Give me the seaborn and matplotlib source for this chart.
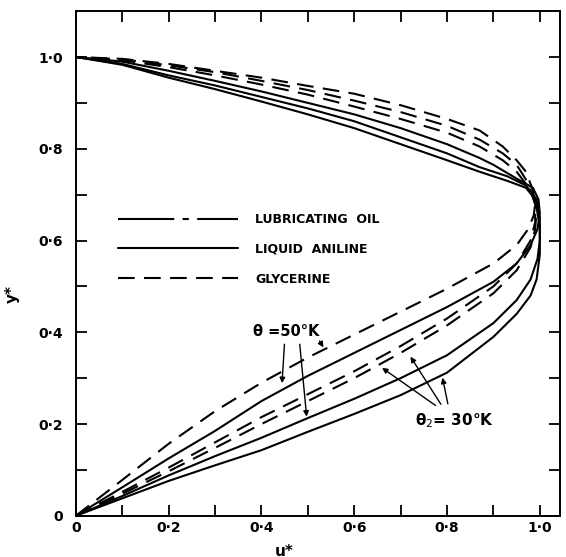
import numpy as np
import pandas as pd
import seaborn as sns
import matplotlib
matplotlib.use("Agg")
import matplotlib.pyplot as plt
from matplotlib.lines import Line2D

# Geschwindigkeitsprofile (u*, y*) - unterer Ast bis zur Spitze, dann oberer Ast zurueck
u_c1 = [0, 0.1, 0.2, 0.3, 0.4, 0.5, 0.6, 0.7, 0.8, 0.9, 0.95, 0.975, 0.987, 0.99,
        0.985, 0.97, 0.95, 0.92, 0.87, 0.8, 0.7, 0.6, 0.5, 0.4, 0.3, 0.2, 0.1, 0]
y_c1 = [0, 0.078, 0.157, 0.228, 0.29, 0.345, 0.395, 0.445, 0.495, 0.55, 0.59, 0.625, 0.655, 0.68,
        0.71, 0.75, 0.775, 0.805, 0.84, 0.865, 0.895, 0.92, 0.937, 0.955, 0.97, 0.985, 0.996, 1.0]

u_c2 = [0, 0.1, 0.2, 0.3, 0.4, 0.5, 0.6, 0.7, 0.8, 0.9, 0.95, 0.98, 0.995, 1.0,
        0.997, 0.985, 0.95, 0.9, 0.87, 0.8, 0.7, 0.6, 0.5, 0.4, 0.3, 0.2, 0.1, 0]
y_c2 = [0, 0.062, 0.125, 0.185, 0.25, 0.305, 0.355, 0.405, 0.455, 0.51, 0.55, 0.59, 0.625, 0.66,
        0.69, 0.715, 0.735, 0.765, 0.78, 0.81, 0.845, 0.875, 0.9, 0.925, 0.948, 0.97, 0.99, 1.0]

u_c3 = [0, 0.1, 0.2, 0.3, 0.4, 0.5, 0.6, 0.7, 0.8, 0.9, 0.95, 0.98, 0.99,
        0.99, 0.975, 0.95, 0.92, 0.87, 0.8, 0.7, 0.6, 0.5, 0.4, 0.3, 0.2, 0.1, 0]
y_c3 = [0, 0.052, 0.105, 0.16, 0.215, 0.265, 0.315, 0.37, 0.43, 0.5, 0.55, 0.6, 0.64,
        0.68, 0.725, 0.765, 0.79, 0.82, 0.85, 0.88, 0.905, 0.928, 0.948, 0.967, 0.982, 0.995, 1.0]

u_c4 = [0, 0.1, 0.2, 0.3, 0.4, 0.5, 0.6, 0.7, 0.8, 0.9, 0.95, 0.98, 0.99,
        0.993, 0.98, 0.95, 0.92, 0.87, 0.8, 0.7, 0.6, 0.5, 0.4, 0.3, 0.2, 0.1, 0]
y_c4 = [0, 0.048, 0.097, 0.148, 0.2, 0.25, 0.3, 0.355, 0.415, 0.485, 0.535, 0.585, 0.625,
        0.67, 0.71, 0.75, 0.775, 0.805, 0.835, 0.865, 0.892, 0.918, 0.94, 0.96, 0.978, 0.993, 1.0]

u_c5 = [0, 0.1, 0.2, 0.3, 0.4, 0.5, 0.6, 0.7, 0.8, 0.9, 0.95, 0.98, 0.995, 1.0,
        1.0, 0.993, 0.97, 0.93, 0.87, 0.8, 0.7, 0.6, 0.5, 0.4, 0.3, 0.2, 0.1, 0]
y_c5 = [0, 0.043, 0.088, 0.13, 0.17, 0.213, 0.255, 0.3, 0.35, 0.42, 0.47, 0.515, 0.56, 0.6,
        0.65, 0.69, 0.72, 0.74, 0.76, 0.79, 0.825, 0.86, 0.888, 0.913, 0.938, 0.96, 0.985, 1.0]

u_c6 = [0, 0.1, 0.2, 0.3, 0.4, 0.5, 0.6, 0.7, 0.8, 0.9, 0.95, 0.98, 0.993, 1.0,
        1.0, 0.99, 0.97, 0.93, 0.87, 0.8, 0.7, 0.6, 0.5, 0.4, 0.3, 0.2, 0.1, 0]
y_c6 = [0, 0.038, 0.076, 0.11, 0.143, 0.183, 0.222, 0.263, 0.312, 0.39, 0.44, 0.48, 0.515, 0.57,
        0.63, 0.69, 0.715, 0.73, 0.75, 0.775, 0.81, 0.845, 0.875, 0.903, 0.93, 0.955, 0.983, 1.0]

legend_labels = ['LUBRICATING  OIL', 'LIQUID  ANILINE', 'GLYCERINE']
tick_vals = [0, 0.2, 0.4, 0.6, 0.8, 1.0]
tick_labels = ['0', '0·2', '0·4', '0·6', '0·8', '1·0']

# Linienstile
dash_lub = (0, (27, 4, 3, 4))
dash_gly = (0, (8, 4.5))
styles = [dash_gly, '-', dash_gly, dash_gly, '-', '-']

curves = [(u_c1, y_c1), (u_c2, y_c2), (u_c3, y_c3), (u_c4, y_c4), (u_c5, y_c5), (u_c6, y_c6)]

sns.set_theme(style='white')
plt.rcParams['font.family'] = ['DejaVu Sans']
plt.rcParams['text.color'] = 'black'
plt.rcParams['axes.labelcolor'] = 'black'
plt.rcParams['xtick.color'] = 'black'
plt.rcParams['ytick.color'] = 'black'

fig = plt.figure(figsize=(5.66, 5.57), dpi=100)
ax = fig.add_axes([0.134, 0.074, 0.855, 0.906])

lw = 1.5
for (u, y), ls in zip(curves, styles):
    df = pd.DataFrame({'u': u, 'y': y})
    sns.lineplot(data=df, x='u', y='y', sort=False, estimator=None, errorbar=None,
                 color='black', linewidth=lw, linestyle=ls, ax=ax)

ax.set_xlim(0, 1.043)
ax.set_ylim(0, 1.10)

# Achsen / Ticks
for s in ax.spines.values():
    s.set_color('black')
    s.set_linewidth(1.4)
ax.set_xticks(tick_vals)
ax.set_xticklabels(tick_labels)
ax.set_yticks(tick_vals)
ax.set_yticklabels(tick_labels)
ax.set_xticks(np.arange(0.1, 1.01, 0.2), minor=True)
ax.set_yticks(np.arange(0.1, 1.01, 0.2), minor=True)
ax.tick_params(which='both', direction='in', length=8, width=1.3, color='black',
               top=True, right=True, bottom=True, left=True)
ax.tick_params(axis='x', which='major', pad=4, labelsize=10, labelcolor='black')
ax.tick_params(axis='y', which='major', pad=9, labelsize=10, labelcolor='black')
for lab in ax.get_xticklabels() + ax.get_yticklabels():
    lab.set_fontweight('bold')

ax.set_xlabel('u*', fontsize=11, fontweight='bold', labelpad=0)
ax.set_ylabel('y*', fontsize=11, fontweight='bold', labelpad=4)
ax.xaxis.set_label_coords(0.43, -0.055)
ax.yaxis.set_label_coords(-0.115, 0.44)

# Legende
handles = [Line2D([], [], color='black', lw=lw, linestyle=dash_lub),
           Line2D([], [], color='black', lw=lw, linestyle='-'),
           Line2D([], [], color='black', lw=lw, linestyle=dash_gly)]
leg = ax.legend(handles, legend_labels, loc='upper left', bbox_to_anchor=(0.087, 0.60),
                frameon=False, handlelength=9.6, handletextpad=1.4, labelspacing=1.35,
                borderpad=0, borderaxespad=0,
                prop={'weight': 'bold', 'size': 9})
for t in leg.get_texts():
    t.set_color('black')

# Beschriftungen mit Pfeilen
arrow = dict(arrowstyle='-|>', color='black', lw=1.0, mutation_scale=8)
ax.text(0.381, 0.402, 'θ =50°K', fontsize=10.5, fontweight='bold', va='center', ha='left')
ax.annotate('', xy=(0.444, 0.283), xytext=(0.45, 0.38), arrowprops=arrow)
ax.annotate('', xy=(0.498, 0.210), xytext=(0.482, 0.38), arrowprops=arrow)
ax.annotate('', xy=(0.537, 0.362), xytext=(0.522, 0.386), arrowprops=arrow)

ax.text(0.73, 0.207, 'θ$_2$= 30°K', fontsize=11, fontweight='bold', va='center', ha='left')
ax.annotate('', xy=(0.655, 0.326), xytext=(0.78, 0.237), arrowprops=arrow)
ax.annotate('', xy=(0.718, 0.352), xytext=(0.79, 0.238), arrowprops=arrow)
ax.annotate('', xy=(0.789, 0.307), xytext=(0.803, 0.238), arrowprops=arrow)

fig.savefig('out.png', dpi=100)
